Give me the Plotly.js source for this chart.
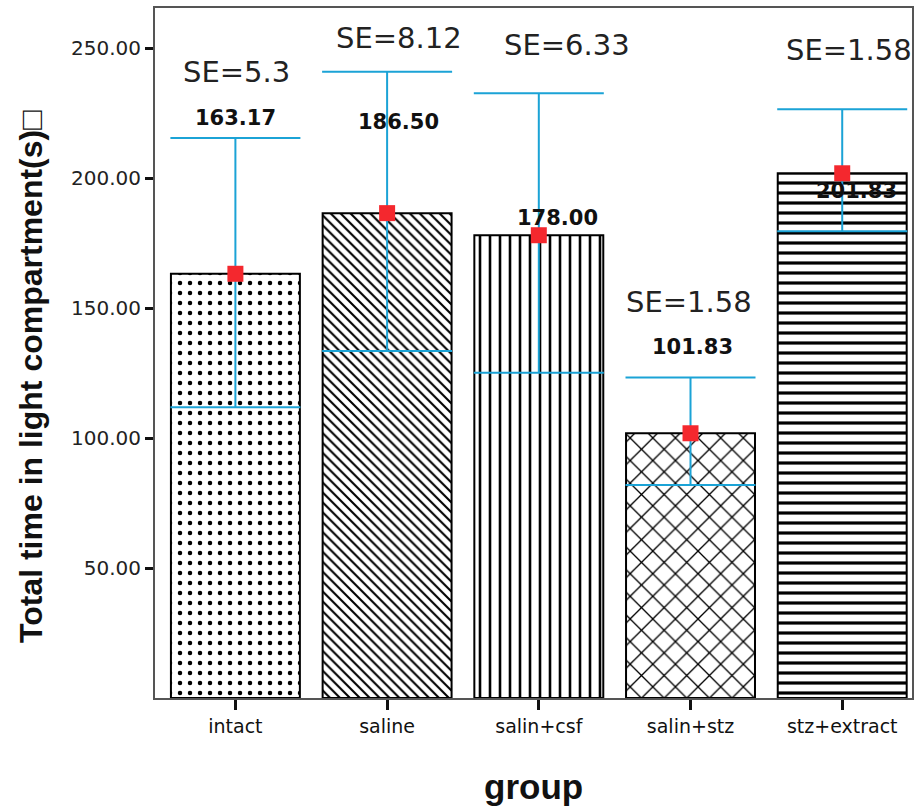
<!DOCTYPE html>
<html>
<head>
<meta charset="utf-8">
<script src="https://cdn.plot.ly/plotly-3.0.1.min.js"></script>
<style>html,body{margin:0;padding:0;background:#fff;}#chart{width:921px;height:812px;}</style>
</head>
<body>
<div id="chart"></div>
<script>
// ---- data ----
const groups = ["intact", "saline", "salin+csf", "salin+stz", "stz+extract"];
const means = [163.17, 186.50, 178.00, 101.83, 201.83];
const errPlus = [52.2, 54.4, 54.6, 21.4, 24.6];
const errMinus = [51.3, 53.0, 52.9, 19.9, 22.3];
const meanLabels = ["163.17", "186.50", "178.00", "101.83", "201.83"];
const seLabels = ["SE=5.3", "SE=8.12", "SE=6.33", "SE=1.58", "SE=1.58"];
const yTicks = [50, 100, 150, 200, 250];

// ---- layout helpers (positions of text labels, in axis units / px shifts) ----
const meanLabelY = [223, 221.5, 184.6, 135, 195];
const meanLabelDx = [0, 11, 19, 2, 14];
const seLabelY = [240.8, 253.8, 251.2, 152.3, 249.2];
const seLabelDx = [1, 12, 28, -2, 7];

const patterns = ['.', '\\', '|', 'x', '-'];
const patSize = [10, 7, 10, 16, 10];
const patSolid = [0.16, 0.3, 0.26, 0.16, 0.32];

const bars = {
  type: 'bar',
  x: groups,
  y: means,
  marker: {
    color: 'white',
    line: {color: 'black', width: 2},
    pattern: {shape: patterns, fgcolor: 'black', bgcolor: 'white', fgopacity: 1, size: patSize, solidity: patSolid, fillmode: 'overlay'}
  },
  hoverinfo: 'x+y',
  showlegend: false
};

const pts = {
  type: 'scatter',
  mode: 'markers',
  x: groups,
  y: means,
  marker: {symbol: 'square', size: 16, color: '#f4282e'},
  error_y: {type: 'data', symmetric: false, array: errPlus, arrayminus: errMinus, color: '#1ba3d6', thickness: 2, width: 65},
  showlegend: false
};

const annotations = [];
groups.forEach((g, i) => {
  annotations.push({x: g, y: meanLabelY[i], xref: 'x', yref: 'y', xshift: meanLabelDx[i], text: meanLabels[i], showarrow: false,
    font: {family: 'DejaVu Sans', size: 21, color: '#111', weight: 'bold'}});
  annotations.push({x: g, y: seLabelY[i], xref: 'x', yref: 'y', xshift: seLabelDx[i], text: seLabels[i], showarrow: false,
    font: {family: 'DejaVu Sans', size: 29, color: '#222'}});
});
// axis titles as annotations for precise placement
annotations.push({x: 0, xref: 'paper', xanchor: 'center', xshift: -124, y: 0.5, yref: 'paper', yshift: -24,
  text: 'Total time in light compartment(s)\u25A1', textangle: -90, showarrow: false,
  font: {family: 'Liberation Sans', size: 32, color: '#111', weight: 'bold'}});
annotations.push({x: 0.5, xref: 'paper', y: 0, yref: 'paper', yshift: -88, yanchor: 'middle',
  text: 'group', showarrow: false,
  font: {family: 'Liberation Sans', size: 35, color: '#111', weight: 'bold'}});

const layout = {
  width: 921, height: 812,
  margin: {l: 155, r: 9, t: 8, b: 114},
  paper_bgcolor: 'white', plot_bgcolor: 'white',
  bargap: 0.15,
  font: {family: 'DejaVu Sans', color: '#111'},
  xaxis: {
    range: [-0.53, 4.46],
    showline: true, linecolor: '#555', linewidth: 2, mirror: true,
    ticks: 'outside', ticklen: 10, tickwidth: 3, tickcolor: '#111',
    tickfont: {family: 'DejaVu Sans', size: 19, color: '#111'},
    showgrid: false, zeroline: false
  },
  yaxis: {
    range: [0, 265.4],
    tickvals: yTicks, tickformat: '.2f',
    showline: true, linecolor: '#555', linewidth: 2, mirror: true,
    ticks: 'outside', ticklen: 8, tickwidth: 3, tickcolor: '#111',
    tickfont: {family: 'DejaVu Sans', size: 20, color: '#222'},
    showgrid: false, zeroline: false
  },
  annotations: annotations
};

Plotly.newPlot('chart', [bars, pts], layout, {displayModeBar: false, staticPlot: true});
</script>
</body>
</html>
